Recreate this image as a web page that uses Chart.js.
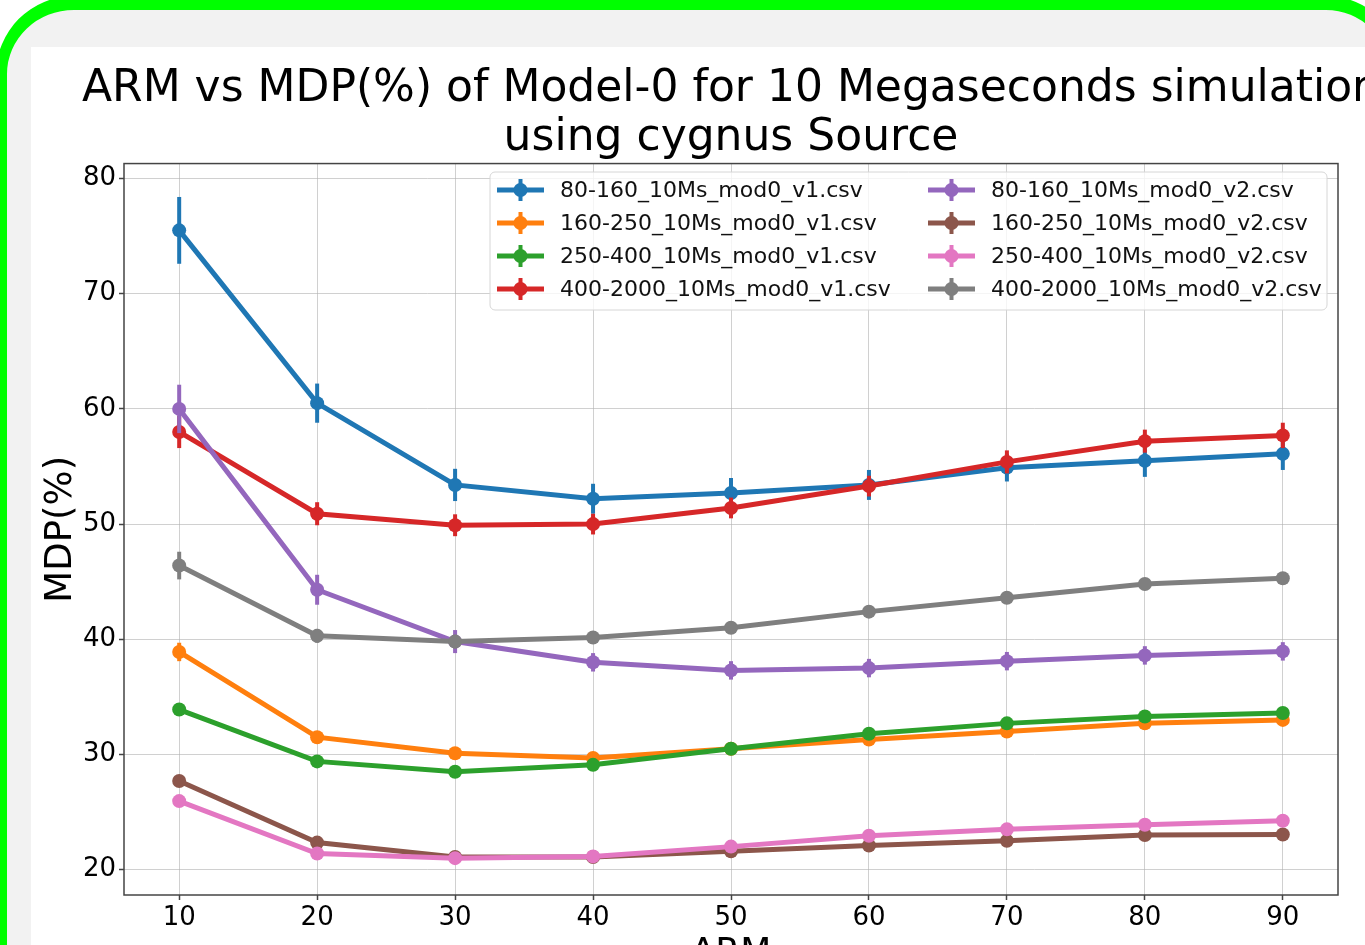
<!DOCTYPE html>
<html lang="en">
<head>
<meta charset="UTF-8" />
<title>ARM vs MDP(%)</title>
<script src="https://cdn.jsdelivr.net/npm/chart.js@4"></script>
<style>
  html, body { margin: 0; padding: 0; width: 1365px; height: 945px; overflow: hidden; background: #fff; }
  #frame {
    position: absolute; left: -4px; top: -4px; width: 1408px; height: 1100px;
    box-sizing: border-box; border: 14px solid #00ff00; border-left-width: 11px;
    border-radius: 78px; background: #f2f2f2;
  }
  #card { position: absolute; left: 31px; top: 47px; width: 1400px; height: 1000px; background: #fff; }
  #myChart { position: absolute; left: 31px; top: 47px; }
</style>
</head>
<body>
<div id="frame"></div>
<div id="card"></div>
<canvas id="myChart" width="1400" height="940"></canvas>

<script>
  // ARM values (x) and axis ticks
  const arm = [10, 20, 30, 40, 50, 60, 70, 80, 90];
  const xTicks = [10, 20, 30, 40, 50, 60, 70, 80, 90];
  const yTicks = [20, 30, 40, 50, 60, 70, 80];

  const labels = [
    "80-160_10Ms_mod0_v1.csv",
    "160-250_10Ms_mod0_v1.csv",
    "250-400_10Ms_mod0_v1.csv",
    "400-2000_10Ms_mod0_v1.csv",
    "80-160_10Ms_mod0_v2.csv",
    "160-250_10Ms_mod0_v2.csv",
    "250-400_10Ms_mod0_v2.csv",
    "400-2000_10Ms_mod0_v2.csv"
  ];
  const colors = ["#1f77b4", "#ff7f0e", "#2ca02c", "#d62728", "#9467bd", "#8c564b", "#e377c2", "#7f7f7f"];

  // MDP(%) values
  const mdp80v1   = [75.5, 60.5, 53.4, 52.2, 52.7, 53.4, 54.9, 55.5, 56.1];
  const mdp160v1  = [38.9, 31.5, 30.1, 29.7, 30.5, 31.3, 32.0, 32.7, 33.0];
  const mdp250v1  = [33.9, 29.4, 28.5, 29.1, 30.5, 31.8, 32.7, 33.3, 33.6];
  const mdp400v1  = [58.0, 50.9, 49.9, 50.0, 51.4, 53.3, 55.4, 57.2, 57.7];
  const mdp80v2   = [60.0, 44.3, 39.8, 38.0, 37.3, 37.5, 38.1, 38.6, 38.95];
  const mdp160v2  = [27.7, 22.35, 21.1, 21.1, 21.6, 22.1, 22.5, 23.0, 23.05];
  const mdp250v2  = [25.95, 21.4, 21.0, 21.15, 22.0, 22.95, 23.5, 23.9, 24.25];
  const mdp400v2  = [46.4, 40.3, 39.8, 40.15, 41.0, 42.4, 43.6, 44.8, 45.3];

  // error bar half-lengths
  const err80v1  = [2.9, 1.7, 1.4, 1.3, 1.3, 1.3, 1.2, 1.4, 1.4];
  const err160v1 = [0.8, 0.4, 0.3, 0.3, 0.3, 0.3, 0.3, 0.3, 0.3];
  const err250v1 = [0.5, 0.3, 0.3, 0.3, 0.3, 0.3, 0.3, 0.3, 0.3];
  const err400v1 = [1.4, 1.0, 0.95, 0.9, 0.9, 0.9, 1.0, 1.0, 1.1];
  const err80v2  = [2.1, 1.3, 1.0, 0.8, 0.8, 0.8, 0.8, 0.8, 0.8];
  const err160v2 = [0.3, 0.2, 0.2, 0.2, 0.2, 0.2, 0.2, 0.2, 0.2];
  const err250v2 = [0.3, 0.2, 0.2, 0.2, 0.2, 0.2, 0.2, 0.2, 0.2];
  const err400v2 = [1.2, 0.6, 0.6, 0.5, 0.5, 0.5, 0.5, 0.5, 0.5];

  const series = [mdp80v1, mdp160v1, mdp250v1, mdp400v1, mdp80v2, mdp160v2, mdp250v2, mdp400v2];
  const errors = [err80v1, err160v1, err250v1, err400v1, err80v2, err160v2, err250v2, err400v2];

  const FONT = "'DejaVu Sans', sans-serif";

  const datasets = series.map((vals, i) => ({
    label: labels[i],
    data: arm.map((x, j) => ({ x, y: vals[j] })),
    err: errors[i],
    borderColor: colors[i],
    backgroundColor: colors[i],
    borderWidth: 5,
    pointRadius: 7,
    pointHoverRadius: 7,
    pointBorderWidth: 0,
    tension: 0,
    order: series.length - i   // later series drawn on top, like matplotlib
  }));

  // vertical error bars, drawn just before each series' line
  const errorBars = {
    id: "errorBars",
    beforeDatasetDraw(chart, args) {
      const ds = chart.data.datasets[args.index];
      const y = chart.scales.y;
      const ctx = chart.ctx;
      ctx.save();
      ctx.strokeStyle = ds.borderColor;
      ctx.lineWidth = 4;
      args.meta.data.forEach((pt, j) => {
        const v = ds.data[j].y, e = ds.err[j];
        ctx.beginPath();
        ctx.moveTo(pt.x, y.getPixelForValue(v + e));
        ctx.lineTo(pt.x, y.getPixelForValue(v - e));
        ctx.stroke();
      });
      ctx.restore();
    }
  };

  // box around plot + matplotlib-like legend in two columns
  const frameAndLegend = {
    id: "frameAndLegend",
    afterDraw(chart) {
      const { ctx, chartArea: a } = chart;
      ctx.save();
      ctx.strokeStyle = "#444";
      ctx.lineWidth = 1.5;
      ctx.strokeRect(a.left, a.top, a.right - a.left, a.bottom - a.top);

      const bx = 459, by = 125, bw = 837, bh = 138;
      ctx.beginPath();
      ctx.roundRect(bx, by, bw, bh, 5);
      ctx.fillStyle = "rgba(255,255,255,0.8)";
      ctx.fill();
      ctx.strokeStyle = "#d6d6d6";
      ctx.lineWidth = 1;
      ctx.stroke();

      ctx.font = "22px " + FONT;
      ctx.textBaseline = "middle";
      chart.data.datasets.forEach((ds, i) => {
        const col = i < 4 ? 0 : 1;
        const row = i % 4;
        const hx = bx + (col === 0 ? 7 : 438);
        const cy = by + 18 + row * 33;
        ctx.strokeStyle = ds.borderColor;
        ctx.lineWidth = 5;
        ctx.beginPath();
        ctx.moveTo(hx, cy);
        ctx.lineTo(hx + 47, cy);
        ctx.stroke();
        ctx.lineWidth = 4;
        ctx.beginPath();
        ctx.moveTo(hx + 23.5, cy - 11);
        ctx.lineTo(hx + 23.5, cy + 11);
        ctx.stroke();
        ctx.fillStyle = ds.borderColor;
        ctx.beginPath();
        ctx.arc(hx + 23.5, cy, 7, 0, Math.PI * 2);
        ctx.fill();
        ctx.fillStyle = "#111";
        ctx.fillText(ds.label, hx + 63, cy + 1);
      });
      ctx.restore();
    }
  };

  new Chart(document.getElementById("myChart"), {
    type: "line",
    data: { datasets },
    plugins: [errorBars, frameAndLegend],
    options: {
      responsive: false,
      animation: false,
      layout: { padding: { left: 0, right: 0, top: 0, bottom: 12 } },
      plugins: {
        legend: { display: false },
        tooltip: { enabled: false },
        title: {
          display: true,
          text: ["ARM vs MDP(%) of Model-0 for 10 Megaseconds simulation", "using cygnus Source"],
          color: "#000",
          font: { family: FONT, size: 44, weight: "normal", lineHeight: 1.12 },
          padding: { top: 18, bottom: 0 }
        }
      },
      scales: {
        x: {
          type: "linear",
          min: 6,
          max: 94,
          afterBuildTicks: s => { s.ticks = xTicks.map(v => ({ value: v })); },
          afterFit: s => { s.height = 80; },
          ticks: { color: "#000", font: { family: FONT, size: 26 }, padding: 3, maxRotation: 0, autoSkip: false },
          grid: { color: "rgba(176,176,176,0.6)", lineWidth: 1, tickColor: "#444", tickLength: 5, tickWidth: 1.5 },
          border: { display: false },
          title: { display: true, text: "ARM", color: "#000", font: { family: FONT, size: 36 }, padding: { top: 4, bottom: 0 } }
        },
        y: {
          min: 17.8,
          max: 81.3,
          afterBuildTicks: s => { s.ticks = yTicks.map(v => ({ value: v })); },
          afterFit: s => { s.width = 93; },
          ticks: { color: "#000", font: { family: FONT, size: 26 }, padding: 3 },
          grid: { color: "rgba(176,176,176,0.6)", lineWidth: 1, tickColor: "#444", tickLength: 5, tickWidth: 1.5 },
          border: { display: false },
          title: { display: true, text: "MDP(%)", color: "#000", font: { family: FONT, size: 37 }, padding: { top: 8, bottom: 0 } }
        },
        // empty right-hand strip so the title centres over the plot like the original figure
        yRight: {
          position: "right",
          min: 17.8,
          max: 81.3,
          afterFit: s => { s.width = 93; },
          ticks: { display: false },
          grid: { display: false },
          border: { display: false }
        }
      }
    }
  });
</script>
</body>
</html>
